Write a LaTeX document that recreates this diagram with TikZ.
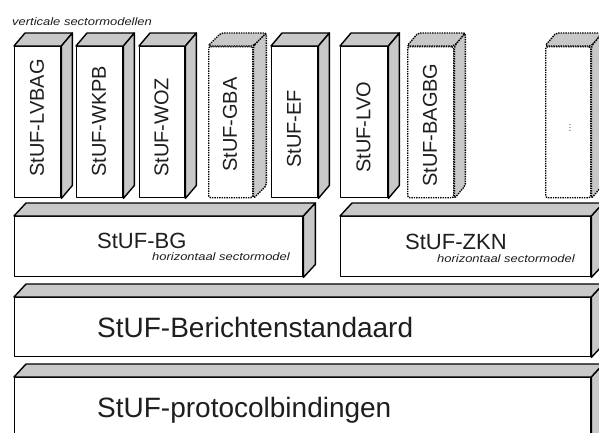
\documentclass[tikz,border=0pt]{standalone}
\usepackage{fontspec}
\setmainfont{Liberation Sans}
\definecolor{sidegray}{HTML}{C8C8C8}
\definecolor{inkgray}{HTML}{1E1E1E}
\tikzset{
  frontface/.style={draw=black, line width=1.4pt, fill=white, inner sep=0pt, anchor=north west, line join=round},
  sideface/.style={draw=black, line width=1.4pt, fill=sidegray, line join=round},
  dotline/.style={dash pattern=on 1.4pt off 1.0pt, rounded corners=2pt},
  vlabel/.style={rotate=90, anchor=west, inner sep=0pt, font=\fontsize{20}{24}\selectfont, text=inkgray},
  hlabel/.style={anchor=base west, inner sep=0pt, font=\fontsize{22}{26}\selectfont, text=inkgray},
  biglabel/.style={anchor=base west, inner sep=0pt, font=\fontsize{28}{32}\selectfont, text=inkgray},
  smalllabel/.style={anchor=base west, inner sep=0pt, text=inkgray}
}
% #1 name, #2 x, #3 y, #4 width, #5 height, #6 extra style, #7 dx, #8 dy
\newcommand{\threedbox}[8]{%
  \node[frontface, #6, minimum width=#4pt, minimum height=#5pt] (#1) at (#2,#3) {};
  \draw[sideface, #6] (#1.north west) -- ++(#7,-#8) -- ([shift={(#7,-#8)}]#1.north east) -- (#1.north east) -- cycle;
  \draw[sideface, #6] (#1.north east) -- ++(#7,-#8) -- ([shift={(#7,-#8)}]#1.south east) -- (#1.south east) -- cycle;
}
\newcommand{\smallit}[1]{\scalebox{1.2}[1]{\fontsize{10.8}{12}\selectfont\itshape #1}}
\begin{document}
\begin{tikzpicture}[x=1pt,y=-1pt]
\useasboundingbox (0,0) rectangle (599,432);
\clip (0,0) rectangle (599,432);
\fill[white] (0,0) rectangle (599,432);

% vertical sector models
\threedbox{lvbag}{14}{46}{46}{151}{}{11}{13}
\threedbox{wkpb}{76}{46}{46}{151}{}{11}{13}
\threedbox{woz}{139}{46}{45}{151}{}{11}{13}
\threedbox{gba}{208}{46}{44}{151}{dotline}{13}{13}
\threedbox{ef}{271}{46}{46}{151}{}{11}{13}
\threedbox{lvo}{340}{46}{47}{151}{}{11}{13}
\threedbox{bagbg}{407}{46}{46}{151}{dotline}{11}{13}
\threedbox{more}{545}{46}{45}{151}{dotline}{11}{13}

\node[smalllabel] (vlab) at (12,25) {\smallit{verticale sectormodellen}};

\node[vlabel] (tlvbag) at (37,177) {StUF-LVBAG};
\node[vlabel] (twkpb) at (99,177) {StUF-WKPB};
\node[vlabel] (twoz) at (161.5,177) {StUF-WOZ};
\node[vlabel] (tgba) at (230,172) {StUF-GBA};
\node[vlabel] (tef) at (294,168) {StUF-EF};
\node[vlabel] (tlvo) at (363.5,173) {StUF-LVO};
\node[vlabel] (tbagbg) at (430,187) {StUF-BAGBG};
\node[rotate=90, inner sep=0pt, font=\fontsize{11}{12}\selectfont, text=black!55] (tmore) at (570,128) {...};

% horizontal sector models
\threedbox{bg}{14}{216}{288}{60}{}{12}{13}
\threedbox{zkn}{340}{216}{250}{60}{}{12}{13}
\node[hlabel] (tbg) at (97,248) {StUF-BG};
\node[smalllabel] (sbg) at (152,260) {\smallit{horizontaal sectormodel}};
\node[hlabel] (tzkn) at (405,249) {StUF-ZKN};
\node[smalllabel] (szkn) at (437,262) {\smallit{horizontaal sectormodel}};

% message standard
\threedbox{ber}{14}{297}{576}{59}{}{12}{13}
\node[biglabel] (tber) at (97,337) {StUF-Berichtenstandaard};

% protocol bindings
\threedbox{prot}{14}{377}{576}{70}{}{12}{13}
\node[biglabel] (tprot) at (97,417) {StUF-protocolbindingen};
\end{tikzpicture}
\end{document}
